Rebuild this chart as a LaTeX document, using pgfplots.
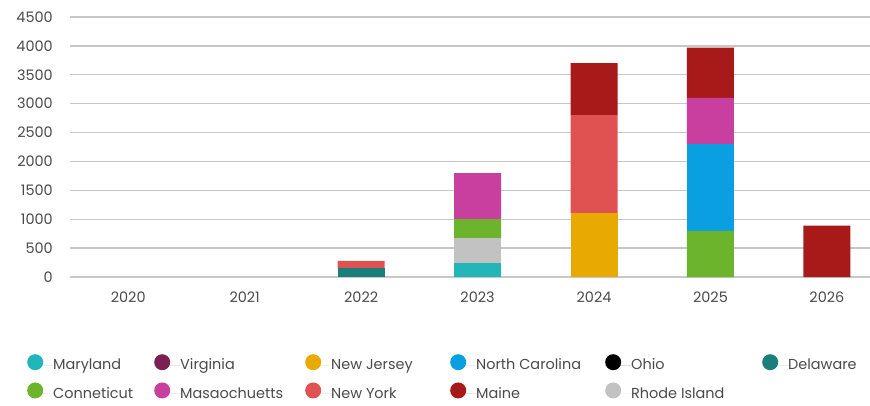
\documentclass[border=0pt]{standalone}
\usepackage{pgfplots}
\pgfplotsset{compat=1.18}
\usepackage{pgfplotstable}
\usepackage{fontspec}
\setmainfont{Poppins}
\definecolor{cMD}{HTML}{22B5BA}
\definecolor{cVA}{HTML}{7A2152}
\definecolor{cNJ}{HTML}{E8AA00}
\definecolor{cNC}{HTML}{0A9FE0}
\definecolor{cOH}{HTML}{000000}
\definecolor{cDE}{HTML}{1A7F7A}
\definecolor{cCT}{HTML}{6CB42C}
\definecolor{cMA}{HTML}{C93F9F}
\definecolor{cNY}{HTML}{E05252}
\definecolor{cME}{HTML}{A8191A}
\definecolor{cRI}{HTML}{C2C2C2}
\definecolor{txt}{HTML}{4A4A4A}
\pgfplotstableread{
x MD DE RI CT NJ NC NY MA ME
0 0 0 0 0 0 0 0 0 0
1 0 0 0 0 0 0 0 0 0
2 0 150 0 0 0 0 130 0 0
3 250 0 420 330 0 0 0 800 0
4 0 0 0 0 1100 0 1700 0 900
5 0 0 0 800 0 1500 0 800 870
6 0 0 0 0 0 0 0 0 890
}\datatable
\begin{document}
\begin{tikzpicture}
\begin{axis}[
  name=ax,
  scale only axis,
  width=800bp, height=260bp,
  ybar stacked, bar width=47bp,
  xmin=-0.5, xmax=6.37,
  ymin=0, ymax=4500,
  ytick={0,500,...,4500},
  xtick={0,...,6},
  xticklabels={2020,2021,2022,2023,2024,2025,2026},
  axis line style={draw=none},
  major tick length=0pt,
  ymajorgrids, xmajorgrids=false,
  grid style={draw=black!22, line width=1.3bp},
  font=\fontsize{14.5}{16}\selectfont,
  /pgf/number format/assume math mode=true,
  /pgf/number format/1000 sep={},
  ticklabel style={text=txt, inner sep=0pt},
  yticklabel shift=17bp,
  xticklabel shift=15bp,
  legend image code/.code={\fill (8bp,0.55ex) circle (8bp); \path (0,0) -- (26bp,0);},
  legend columns=6,
  legend cell align=left,
  legend style={at={(0,0)}, anchor=north west, xshift=-43bp, yshift=-77bp,
    draw=none, fill=none, inner sep=0pt, column sep=0pt, row sep=11bp,
    nodes={inner sep=0pt, text=txt}},
]
\addplot+[forget plot, fill=cMD, draw=none] table[x=x,y=MD]{\datatable};
\addplot+[forget plot, fill=cDE, draw=none] table[x=x,y=DE]{\datatable};
\addplot+[forget plot, fill=cRI, draw=none] table[x=x,y=RI]{\datatable};
\addplot+[forget plot, fill=cCT, draw=none] table[x=x,y=CT]{\datatable};
\addplot+[forget plot, fill=cNJ, draw=none] table[x=x,y=NJ]{\datatable};
\addplot+[forget plot, fill=cNC, draw=none] table[x=x,y=NC]{\datatable};
\addplot+[forget plot, fill=cNY, draw=none] table[x=x,y=NY]{\datatable};
\addplot+[forget plot, fill=cMA, draw=none] table[x=x,y=MA]{\datatable};
\addplot+[forget plot, fill=cME, draw=none] table[x=x,y=ME]{\datatable};
\addlegendimage{fill=cMD, draw=none}\addlegendentry{\makebox[101bp][l]{Maryland}}
\addlegendimage{fill=cVA, draw=none}\addlegendentry{\makebox[125bp][l]{Virginia}}
\addlegendimage{fill=cNJ, draw=none}\addlegendentry{\makebox[119bp][l]{New Jersey}}
\addlegendimage{fill=cNC, draw=none}\addlegendentry{\makebox[129bp][l]{North Carolina}}
\addlegendimage{fill=cOH, draw=none}\addlegendentry{\makebox[131bp][l]{Ohio}}
\addlegendimage{fill=cDE, draw=none}\addlegendentry{Delaware}
\addlegendimage{fill=cCT, draw=none}\addlegendentry{\makebox[101bp][l]{Conneticut}}
\addlegendimage{fill=cMA, draw=none}\addlegendentry{\makebox[125bp][l]{Masaochuetts}}
\addlegendimage{fill=cNY, draw=none}\addlegendentry{\makebox[119bp][l]{New York}}
\addlegendimage{fill=cME, draw=none}\addlegendentry{\makebox[129bp][l]{Maine}}
\addlegendimage{fill=cRI, draw=none}\addlegendentry{\makebox[131bp][l]{Rhode Island}}
\end{axis}
\pgfresetboundingbox
\path ([xshift=-70bp,yshift=-129bp]ax.south west) rectangle ([yshift=17bp]ax.north east);
\end{tikzpicture}
\end{document}
